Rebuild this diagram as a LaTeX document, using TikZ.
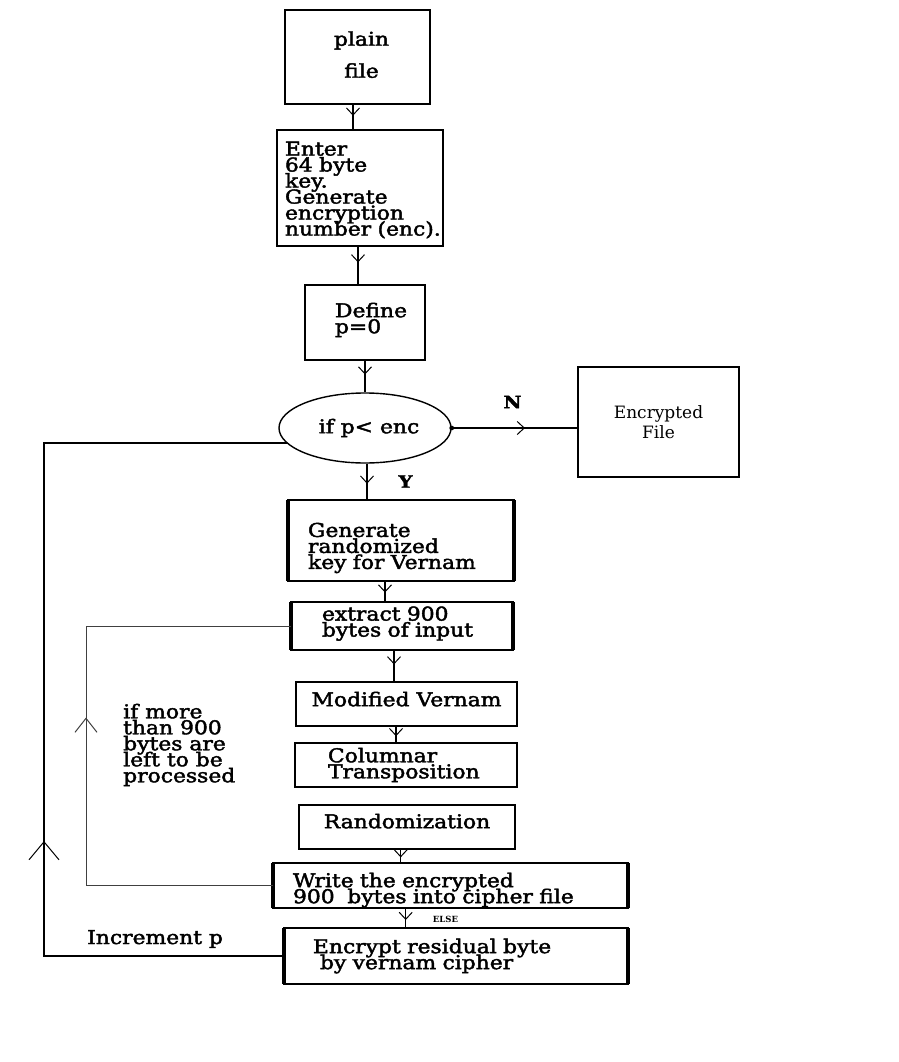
\documentclass[tikz,border=0pt]{standalone}
\usepackage{fontspec}
\newfontfamily\bxf{DejaVu Serif}[FakeStretch=1.15,FakeBold=2.2]
\newfontfamily\efont{DejaVu Serif}
\newcommand\bxsize{\bxf\fontsize{19}{16}\selectfont\lineskiplimit=-50pt\lineskip=0pt}
\usetikzlibrary{arrows.meta,decorations.markings,shapes.geometric}
\tikzset{
  box/.style={draw, rectangle, line width=1.4pt, outer sep=0pt, inner ysep=0pt,
    font=\bxsize, align=left},
  conn/.style={line width=1.4pt},
  midarrow/.style={postaction={decorate}, decoration={markings,
    mark=at position #1 with {\arrow{Straight Barb[length=7pt,width=13pt,line width=1pt]}}}},
  bigarrow/.style={postaction={decorate}, decoration={markings,
    mark=at position #1 with {\arrow{Straight Barb[length=14pt,width=22pt,line width=1pt]}}}},
  hugearrow/.style={postaction={decorate}, decoration={markings,
    mark=at position #1 with {\arrow{Straight Barb[length=18pt,width=30pt,line width=1pt]}}}},
  lbl/.style={font=\bxsize, inner sep=0pt, align=left},
}
\begin{document}
\begin{tikzpicture}[x=1pt,y=-1pt]
\useasboundingbox (0,0) rectangle (898,1062);
\fill[white] (0,0) rectangle (898,1062);

% boxes
\node[box, minimum width=145pt, minimum height=94pt, text width=125pt, inner xsep=10pt,
  align=center, font={\bxf\fontsize{19}{32}\selectfont\lineskiplimit=-50pt}] (plain) at (357.5,57)
  {\hspace*{8pt}plain\\\hspace*{8pt}file\rule[-5pt]{0pt}{1pt}};
\node[box, minimum width=166pt, minimum height=116pt, text width=150pt, inner xsep=8pt]
  (enter) at (360,188) {\rule{0pt}{18pt}Enter\\64 byte\\key.\\Generate\\encryption\\\mbox{number (enc).}};
\node[box, minimum width=120pt, minimum height=75pt, text width=60pt, inner xsep=30pt]
  (define) at (365,322.5) {Define\\p=0\rule[-9pt]{0pt}{1pt}};
\node[draw, ellipse, line width=1.4pt, minimum width=172pt, minimum height=70pt, inner sep=0pt,
  font=\bxsize] (ell) at (365,428) {\hspace*{8pt}if p< enc};
\node[box, minimum width=161pt, minimum height=110pt, align=center,
  font={\efont\fontsize{17}{20}\selectfont\lineskiplimit=-50pt}] (ef) at (658.5,422) {Encrypted\\File};
\node[box, minimum width=226pt, minimum height=81pt, text width=186pt, inner xsep=20pt]
  (gen) at (401,540.5) {\rule{0pt}{29pt}Generate\\randomized\\key for Vernam};
\node[box, minimum width=222pt, minimum height=48pt, text width=160pt, inner xsep=31pt]
  (extract) at (402,626) {extract 900\\bytes of input\rule[-9pt]{0pt}{1pt}};
\node[box, minimum width=221pt, minimum height=44pt, align=center]
  (modv) at (406.5,704) {Modified Vernam\rule[-10pt]{0pt}{1pt}};
\node[box, minimum width=222pt, minimum height=44pt, text width=156pt, inner xsep=33pt]
  (colt) at (406,765) {Columnar\\Transposition};
\node[box, minimum width=216pt, minimum height=44pt, align=center]
  (rand) at (407,827) {Randomization\rule[-12pt]{0pt}{1pt}};
\node[box, minimum width=355pt, minimum height=45pt, text width=315pt, inner xsep=20pt]
  (write) at (450.5,885.5) {\rule{0pt}{23.5pt}Write the encrypted\\\mbox{900\ \ bytes into cipher file}};
\node[box, minimum width=344pt, minimum height=56pt, text width=286pt, inner xsep=29pt]
  (encr) at (456,956) {\mbox{Encrypt residual byte}\\\hspace*{7pt}by vernam cipher};

% thicker vertical sides
\foreach \n in {write,encr,extract,gen} {
  \draw[line width=3.2pt] (\n.north west) -- (\n.south west);
  \draw[line width=3.2pt] (\n.north east) -- (\n.south east);
}
\draw[line width=2.6pt] ([xshift=-62pt]write.north) -- ([xshift=-30pt]write.north);
\draw[line width=2.6pt] ([xshift=-49pt]encr.north) -- ([xshift=-36pt]encr.north);

% labels
\node[font=\bxf\bfseries\fontsize{17}{17}\selectfont, inner sep=0pt] (nl) at (512.5,402) {N};
\node[font=\bxf\bfseries\fontsize{17}{17}\selectfont, inner sep=0pt] (yl) at (405.5,481.5) {Y};
\node[font=\efont\bfseries\fontsize{8.5}{8.5}\selectfont, inner sep=0pt] (el) at (445.5,919) {ELSE};
\node[lbl, anchor=base west] (inc) at (87,944) {Increment p};
\node[lbl, anchor=west] (cond) at (123,745) {if more\\than 900\\bytes are\\left to be\\processed};

% connectors
\draw[conn, midarrow=0.45] ([xshift=-4.5pt]plain.south) -- ([xshift=-4.5pt]plain.south |- enter.north);
\draw[conn, midarrow=0.42] ([xshift=-2pt]enter.south) -- ([xshift=-2pt]enter.south |- define.north);
\draw[conn, midarrow=0.45] (define.south) -- (ell.north);
\draw[conn, midarrow=0.55] ([xshift=2pt]ell.south) -- ([xshift=2pt]ell.south |- gen.north);
\draw[conn, midarrow=0.55] ([xshift=-16pt]gen.south) -- ([xshift=-16pt]gen.south |- extract.north);
\draw[conn, midarrow=0.45] ([xshift=-8pt]extract.south) -- ([xshift=-8pt]extract.south |- modv.north);
\draw[conn, midarrow=0.6] ([xshift=-10.5pt]modv.south) -- ([xshift=-10.5pt]modv.south |- colt.north);
\draw[conn, midarrow=0.6] ([xshift=-6.3pt]rand.south) -- ([xshift=-6.3pt]rand.south |- write.north);
\draw[conn, midarrow=0.6] ([xshift=-44.8pt]write.south) -- ([xshift=-44.8pt]write.south |- encr.north);
\draw[conn, midarrow=0.58] (ell.east) -- (ell.east -| ef.west);
\fill (ell.east) circle (2.4pt);

\coordinate (lx) at (86,0);
\coordinate (ox) at (44,0);
\draw[line width=1pt, black!75, bigarrow=355pt]
  (write.west) -- (write.west -| lx) -- (extract.west -| lx) -- (extract.west);
\draw[line width=1.5pt, hugearrow=355pt]
  (encr.west) -- (encr.west -| ox) -- (ell.191 -| ox) -- (ell.191);
\end{tikzpicture}
\end{document}
